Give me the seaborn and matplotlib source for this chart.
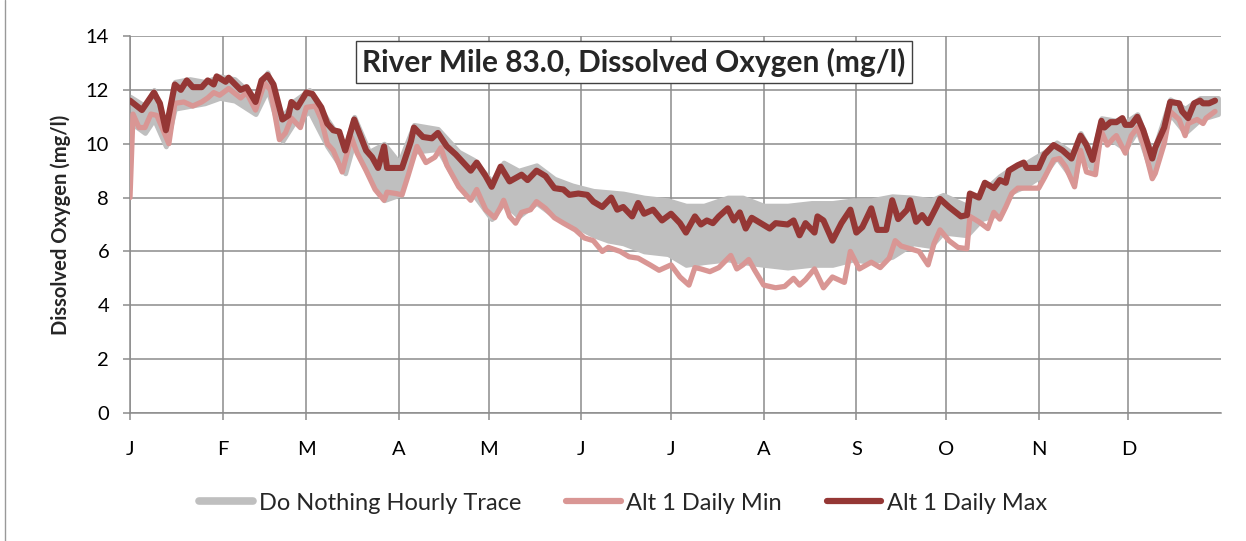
import numpy as np
import pandas as pd
import matplotlib
matplotlib.use("Agg")
import matplotlib.pyplot as plt
import seaborn as sns
from matplotlib.lines import Line2D

# ---------------- data ----------------
month_starts = [0, 31, 59, 90, 120, 151, 181, 212, 243, 273, 304, 334]
month_labels = ["J", "F", "M", "A", "M", "J", "J", "A", "S", "O", "N", "D"]

max_days = [0, 4, 8, 10, 12, 15, 17, 19, 21, 24, 26, 28, 29, 32, 33, 37, 39, 42, 44, 46, 48, 51, 53, 54, 56, 59,
            61, 64, 66, 68, 70, 72, 75, 76, 79, 81, 83, 85, 86, 89, 91, 94, 95, 98, 101, 103, 106, 109, 114, 116,
            119, 121, 124, 127, 131, 133, 136, 139, 142, 145, 147, 150, 153, 155, 158, 161, 163, 165, 168, 170,
            172, 175, 178, 181, 184, 186, 189, 191, 193, 195, 197, 200, 202, 204, 206, 208, 211, 214, 216, 220,
            222, 224, 226, 229, 230, 232, 235, 238, 241, 243, 245, 248, 250, 253, 255, 257, 260, 261, 263, 265,
            267, 270, 271, 274, 278, 280, 281, 284, 286, 289, 291, 293, 294, 297, 299, 300, 304, 306, 309, 312,
            315, 318, 320, 322, 325, 326, 328, 330, 332, 333, 335, 337, 339, 342, 343, 346, 348, 351, 352, 354,
            356, 358, 359, 361, 363]
max_vals = [11.6, 11.25, 11.9, 11.5, 10.5, 12.2, 12.0, 12.35, 12.1, 12.1, 12.35, 12.2, 12.5, 12.3, 12.45, 12.0,
            12.1, 11.55, 12.35, 12.55, 12.2, 10.9, 11.05, 11.55, 11.35, 11.9, 11.85, 11.35, 10.75, 10.5, 10.45,
            9.75, 10.9, 10.6, 9.75, 9.5, 9.1, 9.9, 9.1, 9.1, 9.1, 10.1, 10.6, 10.25, 10.2, 10.4, 9.9, 9.6, 9.0,
            9.3, 8.8, 8.4, 9.15, 8.6, 8.85, 8.65, 9.0, 8.8, 8.35, 8.3, 8.1, 8.15, 8.1, 7.85, 7.65, 8.0, 7.55,
            7.65, 7.3, 7.8, 7.4, 7.55, 7.15, 7.4, 7.05, 6.7, 7.3, 7.0, 7.15, 7.05, 7.3, 7.6, 7.15, 7.45, 6.85,
            7.25, 7.05, 6.85, 7.05, 7.0, 7.15, 6.6, 7.05, 6.7, 7.3, 7.15, 6.4, 7.05, 7.55, 6.7, 6.9, 7.6, 6.8,
            6.8, 7.9, 7.2, 7.55, 7.9, 7.1, 7.35, 7.05, 7.7, 7.95, 7.65, 7.3, 7.35, 8.15, 8.0, 8.55, 8.35, 8.65,
            8.55, 9.0, 9.2, 9.3, 9.1, 9.1, 9.6, 9.95, 9.75, 9.45, 10.3, 9.95, 9.4, 10.85, 10.6, 10.8, 10.8,
            10.95, 10.7, 10.7, 11.0, 10.5, 9.45, 9.85, 10.6, 11.55, 11.5, 11.2, 10.95, 11.5, 11.6, 11.5, 11.5,
            11.6]

min_days = [0, 1, 3, 5, 7, 9, 13, 15, 18, 21, 24, 26, 28, 30, 33, 37, 39, 42, 45, 47, 50, 52, 54, 57, 59, 62, 64,
            66, 68, 71, 74, 76, 79, 82, 85, 86, 89, 91, 93, 96, 99, 102, 104, 106, 110, 114, 116, 119, 122, 124,
            125, 127, 129, 131, 134, 136, 139, 142, 145, 149, 152, 155, 158, 160, 164, 167, 170, 174, 177, 181,
            184, 187, 189, 191, 194, 197, 201, 203, 205, 207, 209, 212, 216, 219, 222, 224, 226, 229, 232, 235,
            239, 241, 244, 248, 251, 254, 256, 258, 261, 264, 267, 269, 271, 274, 277, 280, 281, 284, 287, 289,
            291, 293, 295, 297, 300, 304, 306, 309, 311, 313, 316, 318, 320, 323, 324, 325, 327, 329, 330, 333,
            335, 337, 339, 342, 343, 346, 348, 351, 353, 354, 357, 359, 360, 363]
min_vals = [8.0, 11.1, 10.6, 10.6, 11.1, 11.05, 10.0, 11.5, 11.55, 11.4, 11.55, 11.7, 11.9, 11.8, 12.05, 11.7,
            11.9, 11.25, 12.25, 12.0, 10.15, 10.4, 10.95, 10.6, 11.35, 11.4, 10.9, 10.0, 9.75, 8.95, 10.25, 9.65,
            9.0, 8.3, 7.9, 8.2, 8.15, 8.1, 8.8, 9.9, 9.3, 9.5, 9.85, 9.2, 8.4, 7.9, 8.3, 7.55, 7.25, 7.65, 7.9,
            7.3, 7.05, 7.45, 7.55, 7.85, 7.6, 7.25, 7.05, 6.8, 6.5, 6.4, 6.0, 6.15, 6.0, 5.8, 5.75, 5.5, 5.3, 5.5,
            5.05, 4.75, 5.4, 5.35, 5.25, 5.4, 5.85, 5.35, 5.5, 5.7, 5.3, 4.75, 4.65, 4.7, 5.0, 4.75, 4.95, 5.35,
            4.65, 5.05, 4.85, 6.0, 5.35, 5.6, 5.4, 5.75, 6.4, 6.2, 6.1, 6.0, 5.5, 6.3, 6.8, 6.4, 6.15, 6.1, 7.3,
            7.1, 6.85, 7.45, 7.2, 7.65, 8.15, 8.35, 8.35, 8.35, 8.75, 9.4, 9.45, 9.15, 8.4, 9.75, 8.95, 8.85, 9.7,
            10.45, 9.95, 10.2, 10.3, 9.65, 10.3, 10.6, 10.0, 8.7, 8.9, 10.0, 11.2, 10.9, 10.3, 10.75, 10.9,
            10.75, 10.95, 11.2]

trace_days = [0, 5, 8, 12, 15, 20, 25, 30, 35, 42, 46, 51, 55, 60, 66, 72, 75, 80, 85, 90, 95, 103, 110, 115,
              121, 125, 130, 136, 142, 148, 155, 160, 165, 172, 180, 186, 192, 200, 205, 212, 220, 228, 235, 242,
              248, 255, 262, 268, 272, 280, 285, 291, 295, 300, 306, 310, 316, 318, 322, 325, 333, 337, 342, 348,
              353, 358, 364]
trace_hi = [11.75, 11.4, 12.0, 10.6, 12.3, 12.4, 12.3, 12.5, 12.4, 11.7, 12.65, 11.0, 11.6, 12.0, 10.9, 9.9,
            11.0, 9.7, 10.0, 9.3, 10.7, 10.55, 9.7, 9.4, 8.6, 9.3, 9.0, 9.2, 8.7, 8.45, 8.25, 8.2, 8.15, 8.0, 7.9,
            7.7, 7.7, 8.0, 8.0, 7.7, 7.7, 7.8, 7.8, 7.9, 7.9, 8.05, 8.0, 7.9, 8.1, 7.7, 8.2, 8.8, 9.1, 9.3, 9.7,
            10.05, 9.6, 10.4, 9.6, 10.95, 10.8, 11.1, 9.6, 11.65, 11.3, 11.7, 11.7]
trace_lo = [10.8, 10.4, 10.9, 9.9, 11.3, 11.4, 11.5, 11.7, 11.6, 11.1, 12.0, 10.1, 10.8, 11.2, 9.9, 8.9, 10.1,
            8.8, 7.9, 8.1, 9.7, 9.8, 8.4, 8.1, 7.2, 7.8, 7.3, 7.8, 7.3, 7.0, 6.6, 6.4, 6.3, 6.0, 5.9, 5.5, 5.6,
            5.7, 5.6, 5.5, 5.4, 5.5, 5.5, 5.7, 5.6, 5.8, 6.3, 6.2, 6.7, 6.6, 7.2, 7.4, 8.2, 8.45, 8.9, 9.5, 8.6,
            9.8, 9.0, 10.4, 9.8, 10.5, 8.8, 11.1, 10.4, 10.9, 11.1]

series_names = ["Do Nothing Hourly Trace", "Alt 1 Daily Min", "Alt 1 Daily Max"]
title_text = "River Mile 83.0, Dissolved Oxygen (mg/l)"
y_label = "Dissolved Oxygen (mg/l)"

# ---------------- style ----------------
sns.set_theme(style="white")
plt.rcParams["font.family"] = ["Lato", "DejaVu Sans"]

c_trace = "#bfbfbf"
c_min = "#d99694"
c_max = "#953735"
c_grid = "#8c8c8c"

fig = plt.figure(figsize=(12.46, 5.41), dpi=100)
ax = fig.add_axes([130 / 1246, 1 - 413 / 541, (1221 - 130) / 1246, (413 - 36) / 541])

ax.fill_between(trace_days, trace_lo, trace_hi, color=c_trace, edgecolor=c_trace, lw=3.5, zorder=2)
sns.lineplot(x=min_days, y=min_vals, color=c_min, lw=3.8, ax=ax, estimator=None, zorder=3)
sns.lineplot(x=max_days, y=max_vals, color=c_max, lw=4.4, ax=ax, estimator=None, zorder=4)

ax.set_xlim(0, 365)
ax.set_ylim(0, 14)
ax.set_xticks(month_starts)
ax.set_xticklabels(month_labels)
ax.set_yticks(np.arange(0, 15, 2))
ax.grid(True, color=c_grid, lw=1.1)
ax.set_axisbelow(True)
for s in ["top", "right"]:
    ax.spines[s].set_visible(False)
for s in ["left", "bottom"]:
    ax.spines[s].set_color(c_grid)
    ax.spines[s].set_linewidth(1.1)
ax.tick_params(axis="both", length=5, width=1.1, color=c_grid, labelsize=14.5, labelcolor="black")
ax.tick_params(axis="x", pad=15, bottom=True)
ax.tick_params(axis="y", pad=10, left=True)
ax.set_xlabel("")
ax.set_ylabel(y_label, fontsize=14.5, fontweight="bold", labelpad=11)

ax.text(0.462, 13.03, title_text, transform=ax.get_yaxis_transform(),
        ha="center", va="center", fontsize=21.5, fontweight="bold", zorder=6,
        bbox=dict(boxstyle="square,pad=0.22", fc="white", ec="#404040", lw=1.0))

handles = [Line2D([], [], color=c_trace, lw=5.5),
           Line2D([], [], color=c_min, lw=4.5),
           Line2D([], [], color=c_max, lw=4.5)]
fig.legend(handles, series_names, loc="center", bbox_to_anchor=(0.5, 1 - 503 / 541), ncol=3,
           frameon=False, fontsize=17, handlelength=2.3, handletextpad=0.25, columnspacing=1.9)

fig.add_artist(Line2D([5 / 1246, 5 / 1246], [0, 1], color="#999999", lw=1.0, transform=fig.transFigure))

fig.savefig("out.png", dpi=100)
